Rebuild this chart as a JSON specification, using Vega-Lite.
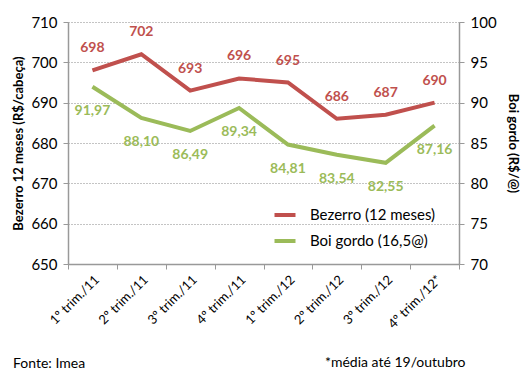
{
  "$schema": "https://vega.github.io/schema/vega-lite/v6.json",
  "width": 391,
  "height": 242,
  "autosize": "none",
  "padding": {"left": 68, "top": 22, "right": 69, "bottom": 115},
  "background": "white",
  "config": {
    "font": "Lato",
    "view": {"stroke": null},
    "locale": {"number": {"decimal": ",", "thousands": ".", "grouping": [3], "currency": ["R$", ""]}}
  },
  "title": {
    "text": "Fonte: Imea",
    "orient": "bottom",
    "anchor": "start",
    "frame": "group",
    "dx": -55,
    "dy": -20,
    "offset": 8,
    "fontSize": 14,
    "fontWeight": "normal",
    "color": "black"
  },
  "data": {
    "values": [
      {"trim": "1º trim./11", "serie": "Bezerro (12 meses)", "valor": 698},
      {"trim": "2º trim./11", "serie": "Bezerro (12 meses)", "valor": 702},
      {"trim": "3º trim./11", "serie": "Bezerro (12 meses)", "valor": 693},
      {"trim": "4º trim./11", "serie": "Bezerro (12 meses)", "valor": 696},
      {"trim": "1º trim./12", "serie": "Bezerro (12 meses)", "valor": 695},
      {"trim": "2º trim./12", "serie": "Bezerro (12 meses)", "valor": 686},
      {"trim": "3º trim./12", "serie": "Bezerro (12 meses)", "valor": 687},
      {"trim": "4º trim./12*", "serie": "Bezerro (12 meses)", "valor": 690},
      {"trim": "1º trim./11", "serie": "Boi gordo (16,5@)", "valor": 91.97},
      {"trim": "2º trim./11", "serie": "Boi gordo (16,5@)", "valor": 88.10},
      {"trim": "3º trim./11", "serie": "Boi gordo (16,5@)", "valor": 86.49},
      {"trim": "4º trim./11", "serie": "Boi gordo (16,5@)", "valor": 89.34},
      {"trim": "1º trim./12", "serie": "Boi gordo (16,5@)", "valor": 84.81},
      {"trim": "2º trim./12", "serie": "Boi gordo (16,5@)", "valor": 83.54},
      {"trim": "3º trim./12", "serie": "Boi gordo (16,5@)", "valor": 82.55},
      {"trim": "4º trim./12*", "serie": "Boi gordo (16,5@)", "valor": 87.16}
    ]
  },
  "encoding": {
    "x": {
      "field": "trim",
      "type": "ordinal",
      "sort": null,
      "bandPosition": 0.5,
      "scale": {"type": "band", "paddingInner": 0, "paddingOuter": 0},
      "axis": {
        "title": "*média até 19/outubro",
        "titleX": 397,
        "titleY": 98,
        "titleAlign": "right",
        "titleAnchor": null,
        "titleBaseline": "middle",
        "titleFontSize": 14,
        "titleFontWeight": "normal",
        "titleColor": "black",
        "labelAngle": -45,
        "labelAlign": "right",
        "labelBaseline": "top",
        "labelFontSize": 13,
        "labelColor": "black",
        "labelPadding": 4,
        "tickBand": "extent",
        "ticks": true,
        "tickSize": 5,
        "tickColor": "#999",
        "domainColor": "#999",
        "domainWidth": 1.5,
        "grid": false
      }
    },
    "color": {
      "field": "serie",
      "type": "nominal",
      "sort": ["Bezerro (12 meses)", "Boi gordo (16,5@)"],
      "scale": {"domain": ["Bezerro (12 meses)", "Boi gordo (16,5@)"], "range": ["#c0504d", "#9bbb59"]},
      "legend": {
        "title": null,
        "orient": "none",
        "legendX": 200,
        "legendY": 176,
        "symbolType": "M-0.7,0H0.7",
        "symbolSize": 900,
        "symbolStrokeWidth": 4,
        "labelFontSize": 15,
        "labelColor": "black",
        "rowPadding": 1,
        "labelOffset": 8
      }
    }
  },
  "layer": [
    {
      "transform": [{"filter": "datum.serie == 'Bezerro (12 meses)'"}],
      "encoding": {
        "y": {
          "field": "valor",
          "type": "quantitative",
          "scale": {"domain": [650, 710], "nice": false, "zero": false},
          "axis": {
            "title": "Bezerro 12 meses (R$/cabeça)",
            "titleFontSize": 13,
            "titleFontWeight": "bold",
            "titleColor": "black",
            "titlePadding": 5,
            "values": [650, 660, 670, 680, 690, 700, 710],
            "labelFontSize": 15,
            "labelColor": "black",
            "labelPadding": 6,
            "tickSize": 5,
            "tickColor": "#999",
            "domainColor": "#999",
            "domainWidth": 1.5,
            "grid": true,
            "gridColor": "#888",
            "gridDash": [1, 2],
            "gridWidth": 1
          }
        }
      },
      "layer": [
        {"mark": {"type": "line", "strokeWidth": 4}},
        {
          "mark": {"type": "text", "dy": -22, "fontSize": 14, "fontWeight": "bold"},
          "encoding": {"text": {"field": "valor", "type": "quantitative", "format": "d"}}
        }
      ]
    },
    {
      "transform": [{"filter": "datum.serie == 'Boi gordo (16,5@)'"}],
      "encoding": {
        "y": {
          "field": "valor",
          "type": "quantitative",
          "scale": {"domain": [70, 100], "nice": false, "zero": false},
          "axis": {
            "orient": "right",
            "title": "Boi gordo (R$/@)",
            "titleFontSize": 13,
            "titleFontWeight": "bold",
            "titleColor": "black",
            "titleAngle": 90,
            "titlePadding": 9,
            "values": [70, 75, 80, 85, 90, 95, 100],
            "labelFontSize": 15,
            "labelColor": "black",
            "labelPadding": 6,
            "tickSize": 5,
            "tickColor": "#999",
            "domainColor": "#999",
            "domainWidth": 1.5,
            "grid": false
          }
        }
      },
      "layer": [
        {"mark": {"type": "line", "strokeWidth": 4}},
        {
          "mark": {"type": "text", "dy": 24, "fontSize": 14, "fontWeight": "bold"},
          "encoding": {"text": {"field": "valor", "type": "quantitative", "format": ".2f"}}
        }
      ]
    }
  ],
  "resolve": {"scale": {"y": "independent"}, "axis": {"y": "independent"}}
}
